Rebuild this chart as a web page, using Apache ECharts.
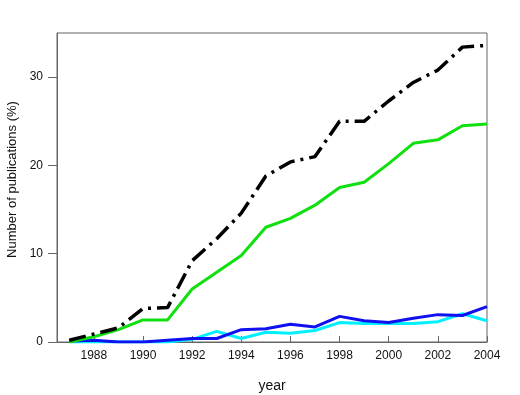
<!DOCTYPE html>
<html>
<head>
<meta charset="utf-8">
<script src="https://cdn.jsdelivr.net/npm/echarts@6/dist/echarts.min.js"></script>
<style>html,body{margin:0;padding:0;background:#fff}#c{width:520px;height:395px}</style>
</head>
<body>
<div id="c"></div>
<script>
var years = [1987,1988,1989,1990,1991,1992,1993,1994,1995,1996,1997,1998,1999,2000,2001,2002,2003,2004];
var totalSeries = [0.2,0.9,1.6,3.8,3.9,9.2,11.7,14.6,18.8,20.4,21.0,25.0,25.0,27.3,29.4,30.8,33.4,33.6];
var greenSeries = [0.0,0.6,1.4,2.5,2.5,6.0,7.9,9.8,13.0,14.0,15.5,17.5,18.1,20.2,22.5,22.9,24.5,24.7];
var blueSeries  = [0.1,0.2,0.0,0.0,0.2,0.4,0.4,1.4,1.5,2.0,1.7,2.9,2.4,2.2,2.7,3.1,3.0,4.0];
var cyanSeries  = [0.0,0.0,0.0,0.0,0.0,0.3,1.2,0.4,1.1,1.0,1.3,2.2,2.1,2.1,2.1,2.3,3.2,2.4];
var xTicks = [1988,1990,1992,1994,1996,1998,2000,2002,2004];
var yTicks = [0,10,20,30];

function pairs(vals){ return years.map(function(y,i){ return [y, vals[i]]; }); }

var font = 'Liberation Sans, Arial, sans-serif';
var chart = echarts.init(document.getElementById('c'), null, {renderer:'canvas'});
chart.setOption({
  animation:false,
  backgroundColor:'#fff',
  grid:{left:57,right:33,top:33,bottom:53,show:true,borderColor:'#666',borderWidth:1,backgroundColor:'transparent',outerBoundsMode:'none',containLabel:false},
  xAxis:{
    type:'value', min:1986.5, max:2004,
    name:'year', nameLocation:'middle', nameGap:37,
    nameTextStyle:{fontFamily:font,fontSize:14,color:'#111'},
    axisLine:{show:true,lineStyle:{color:'#666',width:1}},
    axisTick:{show:true,inside:true,length:6,lineStyle:{color:'#666'},customValues:xTicks},
    axisLabel:{fontFamily:font,fontSize:12,color:'#111',margin:8,customValues:xTicks,formatter:function(v){return String(v);}},
    splitLine:{show:false}
  },
  yAxis:{
    type:'value', min:0, max:35,
    name:'Number of publications (%)', nameLocation:'middle', nameGap:32,
    nameTextStyle:{fontFamily:font,fontSize:13,color:'#111',padding:[0,0,0,16]},
    axisLine:{show:true,lineStyle:{color:'#666',width:1}},
    axisTick:{show:true,inside:false,length:9,lineStyle:{color:'#666'},customValues:yTicks},
    axisLabel:{fontFamily:font,fontSize:12,color:'#111',margin:14,customValues:yTicks},
    splitLine:{show:false}
  },
  series:[
    {type:'line',data:pairs(cyanSeries),symbol:'none',lineStyle:{color:'#00f0ff',width:3}},
    {type:'line',data:pairs(blueSeries),symbol:'none',lineStyle:{color:'#1010f0',width:3}},
    {type:'line',data:pairs(greenSeries),symbol:'none',lineStyle:{color:'#10e010',width:3}},
    {type:'line',data:pairs(totalSeries),symbol:'none',lineStyle:{color:'#000',width:3.5,type:[17,6,3,6]}}
  ]
});
</script>
</body>
</html>
